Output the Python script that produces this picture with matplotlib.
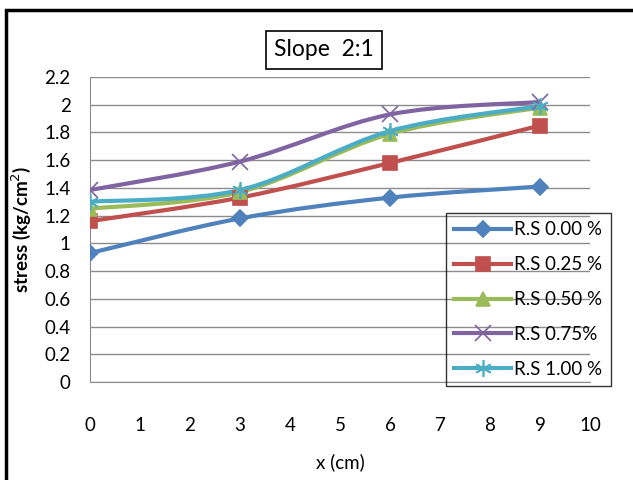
#! /usr/bin/env python3
import numpy as np
import matplotlib.pyplot as plt
from matplotlib.path import Path
from matplotlib.patches import PathPatch, Rectangle
from matplotlib.lines import Line2D

plt.rcParams['font.family'] = ['Lato', 'DejaVu Sans']

x = [0, 3, 6, 9]
rs_000 = [0.93, 1.18, 1.33, 1.41]
rs_025 = [1.16, 1.33, 1.58, 1.85]
rs_050 = [1.25, 1.37, 1.79, 1.98]
rs_075 = [1.385, 1.59, 1.93, 2.02]
rs_100 = [1.30, 1.385, 1.81, 1.99]
labels = ["R.S 0.00 %", "R.S 0.25 %", "R.S 0.50 %", "R.S 0.75%", "R.S 1.00 %"]

series = [rs_000, rs_025, rs_050, rs_075, rs_100]
colors = ["#4F81BD", "#C0504D", "#9BBB59", "#8064A2", "#4BACC6"]
markers = ["D", "s", "^", "x", (6, 2, 0)]
msizes = [8, 10, 10, 11, 12]


def smooth_path(xs, ys):
    # excel-like smoothed line, cubic bezier between points
    p = np.column_stack([xs, ys]).astype(float)
    n = len(p)
    verts = [p[0]]
    codes = [Path.MOVETO]
    for i in range(n - 1):
        prev = p[i - 1] if i > 0 else p[i]
        nxt = p[i + 2] if i + 2 < n else p[i + 1]
        c1 = p[i] + (p[i + 1] - prev) / 6
        c2 = p[i + 1] - (nxt - p[i]) / 6
        verts += [c1, c2, p[i + 1]]
        codes += [Path.CURVE4] * 3
    return Path(verts, codes)


def main():
    fig = plt.figure(figsize=(6.33, 4.8), dpi=100)
    ax = fig.add_axes([90 / 633, 1 - 382 / 480, 500 / 633, 305 / 480])

    handles = []
    for ys, c, m, ms, lab in zip(series, colors, markers, msizes, labels):
        ax.add_patch(PathPatch(smooth_path(x, ys), fill=False, edgecolor=c, lw=3, zorder=3))
        ax.plot(x, ys, linestyle="none", marker=m, color=c, markersize=ms,
                markeredgewidth=1.2, zorder=4)
        handles.append(Line2D([], [], color=c, lw=3, marker=m, markersize=ms,
                              markeredgewidth=1.2))

    ax.set_xlim(0, 10)
    ax.set_ylim(0, 2.2)
    ax.set_xticks(range(0, 11))
    ax.set_yticks(np.arange(0, 2.21, 0.2))
    ax.set_yticklabels(["0", "0.2", "0.4", "0.6", "0.8", "1", "1.2", "1.4", "1.6", "1.8", "2", "2.2"])
    ax.grid(axis="y", color="#8c8c8c", lw=1)
    ax.set_axisbelow(True)
    for s in ["top", "right"]:
        ax.spines[s].set_visible(False)
    for s in ["left", "bottom"]:
        ax.spines[s].set_color("#8c8c8c")
    ax.tick_params(length=0, labelsize=13.5)
    ax.tick_params(axis="x", pad=25)
    ax.tick_params(axis="y", pad=14)

    ax.set_xlabel("x (cm)", fontsize=13.5, labelpad=14)
    ax.set_ylabel("stress (kg/cm$^2$)", fontsize=13.5, fontweight="bold", labelpad=8)

    fig.text(324 / 633, 1 - 50 / 480, "Slope  2:1", fontsize=16.5, ha="center", va="center",
             bbox=dict(boxstyle="square,pad=0.35", fc="white", ec="black", lw=1.2))

    leg = ax.legend(handles, labels, loc="upper left",
                    bbox_to_anchor=(446 / 633, 1 - 213 / 480), bbox_transform=fig.transFigure,
                    fontsize=13.5, frameon=True, fancybox=False,
                    handlelength=3.0, handletextpad=0.2, labelspacing=0.95,
                    borderpad=0.45, borderaxespad=0)
    leg.get_frame().set_facecolor("none")
    leg.get_frame().set_edgecolor("black")
    leg.get_frame().set_linewidth(1)

    fig.add_artist(Rectangle((6 / 633, -0.2), 2, 1.2 - 10 / 480, transform=fig.transFigure,
                             fill=False, ec="black", lw=2.5))

    fig.savefig("out.png", dpi=100)


if __name__ == "__main__":
    main()
